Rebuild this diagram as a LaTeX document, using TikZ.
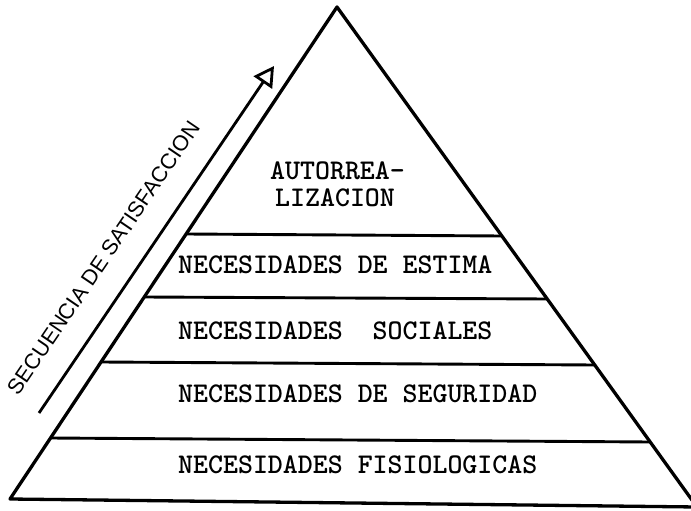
\documentclass[tikz,border=0pt]{standalone}
\usepackage{fontspec}
\newfontfamily\letterfont{Liberation Sans}
\usetikzlibrary{arrows.meta}
\begin{document}
\begin{tikzpicture}[x=1pt,y=-1pt,
  side/.style={line width=3.3pt, line join=round, line cap=round},
  tier/.style={line width=2.9pt},
  lvl/.style={anchor=west, inner sep=0pt, font=\fontsize{28.5}{30}\selectfont\ttfamily\bfseries},
  seqarrow/.style={line width=2.8pt, -{Triangle[open, length=20pt, width=22pt]}},
]
\useasboundingbox (0,0) rectangle (691,511);
\clip (0,0) rectangle (691,511);
% pyramid
\coordinate (A) at (337,7);
\coordinate (L) at (10,499);
\coordinate (R) at (697,507);
\draw[side] (L) -- (A) -- (R) -- cycle;
% tiers
\coordinate (t1l) at (186.1,234);  \coordinate (t1r) at (501.9,236);
\coordinate (t2l) at (144.2,297);  \coordinate (t2r) at (547.2,299);
\coordinate (t3l) at (101.0,362);  \coordinate (t3r) at (594.8,365);
\coordinate (t4l) at (50.5,438);   \coordinate (t4r) at (650.2,442);
\draw[tier] (t1l) -- (t1r);
\draw[tier] (t2l) -- (t2r);
\draw[tier] (t3l) -- (t3r);
\draw[tier] (t4l) -- (t4r);
% labels
\node[lvl] (auto1) at (270,171) {AUTORREA-};
\node[lvl] (auto2) at (275,198) {LIZACION};
\node[lvl] (est) at (178,265) {NECESIDADES DE ESTIMA};
\node[lvl] (soc) at (178,331) {NECESIDADES~~SOCIALES};
\node[lvl] (seg) at (178,394) {NECESIDADES DE SEGURIDAD};
\node[lvl] (fis) at (178,465) {NECESIDADES FISIOLOGICAS};
% arrow
\coordinate (s0) at (39,413);
\coordinate (tip) at (274,66);
\draw[seqarrow] (s0) -- (tip);
\node[rotate=55.8, inner sep=0pt, font=\letterfont\fontsize{21.6}{23}\selectfont] (seq) at (103.5,258) {SECUENCIA DE SATISFACCION};
\end{tikzpicture}
\end{document}
